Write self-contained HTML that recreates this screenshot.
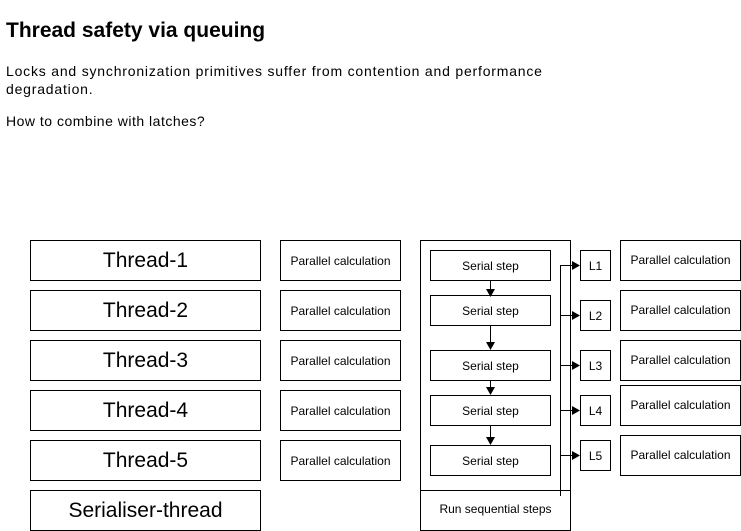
<!DOCTYPE html>
<html><head><style>
body{margin:0;width:741px;height:531px;background:#fff;font-family:"Liberation Sans",sans-serif;position:relative;overflow:hidden}
.b{position:absolute;border:1px solid #000;box-sizing:border-box;display:flex;align-items:center;justify-content:center;text-align:center;background:#fff}
.t{font-size:21px}
.s{font-size:12px}
.p{font-size:12px;align-items:flex-start;padding-top:12px}
</style></head><body>
<div style="position:absolute;left:6px;top:19px;font-size:21px;font-weight:bold">Thread safety via queuing</div>
<div style="position:absolute;left:6px;top:62px;font-size:14px;line-height:18px;width:560px;letter-spacing:0.8px">Locks and synchronization primitives suffer from contention and performance degradation.</div>
<div style="position:absolute;left:6px;top:113px;font-size:14px;letter-spacing:0.5px">How to combine with latches?</div>

<div class="b t" style="left:30px;top:240px;width:231px;height:41px">Thread-1</div>
<div class="b t" style="left:30px;top:290px;width:231px;height:41px">Thread-2</div>
<div class="b t" style="left:30px;top:340px;width:231px;height:41px">Thread-3</div>
<div class="b t" style="left:30px;top:390px;width:231px;height:41px">Thread-4</div>
<div class="b t" style="left:30px;top:440px;width:231px;height:41px">Thread-5</div>
<div class="b t" style="left:30px;top:490px;width:231px;height:41px">Serialiser-thread</div>

<div class="b s" style="left:280px;top:240px;width:121px;height:41px">Parallel calculation</div>
<div class="b s" style="left:280px;top:290px;width:121px;height:41px">Parallel calculation</div>
<div class="b s" style="left:280px;top:340px;width:121px;height:41px">Parallel calculation</div>
<div class="b s" style="left:280px;top:390px;width:121px;height:41px">Parallel calculation</div>
<div class="b s" style="left:280px;top:440px;width:121px;height:41px">Parallel calculation</div>

<div class="b" style="left:420px;top:240px;width:151px;height:291px"></div>
<div style="position:absolute;left:420px;top:490px;width:151px;border-top:1px solid #000"></div>
<div style="position:absolute;left:420px;top:502px;width:151px;text-align:center;font-size:12px">Run sequential steps</div>

<div class="b s" style="left:430px;top:250px;width:121px;height:31px">Serial step</div>
<div class="b s" style="left:430px;top:295px;width:121px;height:31px">Serial step</div>
<div class="b s" style="left:430px;top:350px;width:121px;height:31px">Serial step</div>
<div class="b s" style="left:430px;top:395px;width:121px;height:31px">Serial step</div>
<div class="b s" style="left:430px;top:445px;width:121px;height:31px">Serial step</div>

<div class="b s" style="left:580px;top:250px;width:31px;height:31px">L1</div>
<div class="b s" style="left:580px;top:300px;width:31px;height:31px">L2</div>
<div class="b s" style="left:580px;top:350px;width:31px;height:31px">L3</div>
<div class="b s" style="left:580px;top:395px;width:31px;height:31px">L4</div>
<div class="b s" style="left:580px;top:440px;width:31px;height:31px">L5</div>

<div class="b p" style="left:620px;top:240px;width:121px;height:41px">Parallel calculation</div>
<div class="b p" style="left:620px;top:290px;width:121px;height:41px">Parallel calculation</div>
<div class="b p" style="left:620px;top:340px;width:121px;height:41px">Parallel calculation</div>
<div class="b p" style="left:620px;top:385px;width:121px;height:41px">Parallel calculation</div>
<div class="b p" style="left:620px;top:435px;width:121px;height:41px">Parallel calculation</div>

<svg style="position:absolute;left:0;top:0" width="741" height="531">
<g stroke="#000" stroke-width="1" fill="none">
<path d="M490.5 281V292M490.5 326V347M490.5 381V392M490.5 426V442"/>
<path d="M560.5 265V496M560 265.5H576M560 315.5H576M560 365.5H576M560 410.5H576M560 455.5H576"/>
</g>
<g fill="#000">
<path d="M486 289L490.5 297L495 289Z"/>
<path d="M486 342L490.5 350L495 342Z"/>
<path d="M486 387L490.5 395L495 387Z"/>
<path d="M486 437L490.5 445L495 437Z"/>
<path d="M572 261L580 265.5L572 270Z"/>
<path d="M572 311L580 315.5L572 320Z"/>
<path d="M572 361L580 365.5L572 370Z"/>
<path d="M572 406L580 410.5L572 415Z"/>
<path d="M572 451L580 455.5L572 460Z"/>
</g>
</svg>
</body></html>
